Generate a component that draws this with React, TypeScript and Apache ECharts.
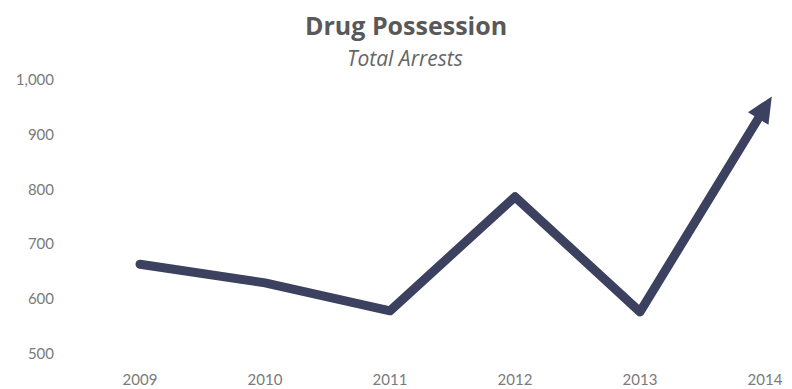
import React, { useEffect, useRef } from "react";
import * as echarts from "echarts";

const years = ["2009", "2010", "2011", "2012", "2013", "2014"];
const arrests = [662, 628, 577, 785, 575, 948];
const yMin = 500;
const yMax = 1000;
const yStep = 100;

export default function App() {
  const ref = useRef<HTMLDivElement>(null);
  useEffect(() => {
    if (!ref.current) return;
    const chart = echarts.init(ref.current, undefined, { renderer: "svg" });
    const lineColor = "#3c4160";
    const buildData = (rot: number) =>
      arrests.map((v, i) =>
        i === arrests.length - 1
          ? { value: v, symbol: "triangle", symbolSize: [24, 26], symbolRotate: rot, itemStyle: { color: lineColor } }
          : { value: v, symbol: "none" }
      );
    chart.setOption({
      animation: false,
      backgroundColor: "#ffffff",
      title: [
        {
          text: "Drug Possession",
          left: 300,
          top: 5,
          textStyle: { fontFamily: "Open Sans", fontWeight: "bold", fontSize: 25, color: "#595959", lineHeight: 30 },
        },
        {
          text: "Total Arrests",
          left: 342,
          top: 41,
          textStyle: { fontFamily: "Open Sans", fontStyle: "italic", fontWeight: "normal", fontSize: 21, color: "#666666", lineHeight: 24 },
        },
      ],
      grid: { left: 140, right: 27, top: 79, bottom: 36, containLabel: false },
      xAxis: {
        type: "category",
        data: years,
        boundaryGap: false,
        axisLine: { show: false },
        axisTick: { show: false },
        axisLabel: { fontFamily: "Lato", fontSize: 15, color: "#7a7a7a", margin: 18 },
        splitLine: { show: false },
      },
      yAxis: {
        type: "value",
        min: yMin,
        max: yMax,
        interval: yStep,
        axisLine: { show: false },
        axisTick: { show: false },
        splitLine: { show: false },
        axisLabel: {
          fontFamily: "Lato",
          fontSize: 15,
          color: "#7a7a7a",
          margin: 86,
          formatter: (v: number) => v.toLocaleString("en-US"),
        },
      },
      series: [
        {
          type: "line",
          data: buildData(0),
          lineStyle: { color: lineColor, width: 9, cap: "round", join: "round" },
          itemStyle: { color: lineColor },
          showSymbol: true,
        },
      ],
    });
    const n = arrests.length;
    const p1 = chart.convertToPixel({ seriesIndex: 0 }, [n - 2, arrests[n - 2]]) as number[];
    const p2 = chart.convertToPixel({ seriesIndex: 0 }, [n - 1, arrests[n - 1]]) as number[];
    if (p1 && p2) {
      const dx = p2[0] - p1[0];
      const dy = p2[1] - p1[1];
      const ang = (Math.atan2(dx, -dy) * 180) / Math.PI;
      chart.setOption({ series: [{ data: buildData(-ang) }] });
    }
    return () => chart.dispose();
  }, []);
  return <div ref={ref} style={{ width: 792, height: 389, position: "absolute", left: 0, top: 0 }} />;
}
